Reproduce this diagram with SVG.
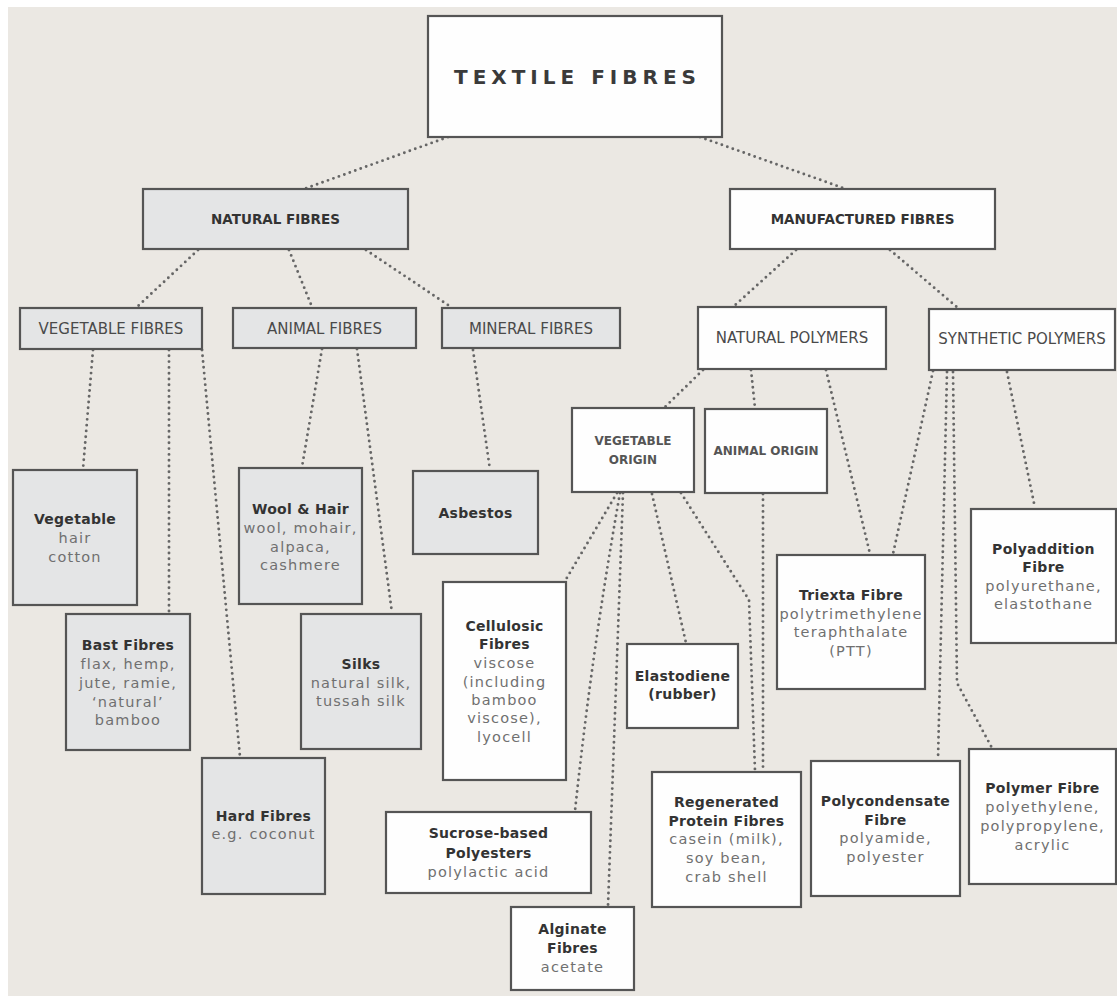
<svg xmlns="http://www.w3.org/2000/svg" width="1117" height="996" viewBox="0 0 1117 996">
<style>
.bg{fill:#ebe8e3}
.g{fill:#e4e5e6;stroke:#555;stroke-width:2.2}
.w{fill:#fefefe;stroke:#555;stroke-width:2.2}
text{font-family:"DejaVu Sans","Liberation Sans",sans-serif;text-anchor:middle}
.t0{font-size:20px;font-weight:bold;letter-spacing:5px;fill:#3a3a3a}
.t1{font-size:13.5px;font-weight:bold;fill:#333}
.cap{font-size:15px;fill:#4a4a4a}
.cb{font-size:12px;font-weight:bold;fill:#555}
.b{font-size:14px;font-weight:bold;letter-spacing:0.3px;fill:#333}
.n{font-size:14.5px;letter-spacing:1.2px;fill:#707070}
.con path{fill:none;stroke:#666;stroke-width:2.9;stroke-linecap:round;stroke-dasharray:0 5.8}
</style>
<rect x="0" y="0" width="1117" height="996" fill="#ffffff"/>
<rect class="bg" x="8" y="7" width="1109" height="989"/>

<g id="connectors" class="con">
<path d="M448,137 L304,189"/>
<path d="M700,137 L846,189"/>
<path d="M198,250 L137,307"/>
<path d="M289,250 L312,307"/>
<path d="M366,250 L451,307"/>
<path d="M796,250 L733,307"/>
<path d="M890,250 L958,308"/>
<path d="M93,350 L83,469"/>
<path d="M169,350 L169,613"/>
<path d="M202,350 L240,757"/>
<path d="M322,349 L302,467"/>
<path d="M357,349 L392,613"/>
<path d="M473,350 L490,470"/>
<path d="M703,370 L665,407"/>
<path d="M751,370 L755,408"/>
<path d="M826,370 L870,554"/>
<path d="M933,371 L893,554"/>
<path d="M947,372 L938,760"/>
<path d="M953,372 L957,683 L992,748"/>
<path d="M1007,372 L1035,508"/>
<path d="M617,493 L565,581"/>
<path d="M620,493 Q592,650 575,811"/>
<path d="M623,493 L608,906"/>
<path d="M652,494 L686,643"/>
<path d="M681,493 L749,600 L755,771"/>
<path d="M763,494 L763,771"/>
</g>

<g id="textile-fibres"><rect class="w" x="428" y="16" width="294" height="121"/><text class="t0" x="577.5" y="84">TEXTILE FIBRES</text></g>
<g id="natural-fibres"><rect class="g" x="143" y="189" width="265" height="60"/><text class="t1" x="275.5" y="224">NATURAL FIBRES</text></g>
<g id="manufactured-fibres"><rect class="w" x="730" y="189" width="265" height="60"/><text class="t1" x="862.5" y="224">MANUFACTURED FIBRES</text></g>

<g id="vegetable-fibres"><rect class="g" x="20" y="308" width="182" height="41"/><text class="cap" x="111" y="334">VEGETABLE FIBRES</text></g>
<g id="animal-fibres"><rect class="g" x="233" y="308" width="183" height="40"/><text class="cap" x="324.5" y="334">ANIMAL FIBRES</text></g>
<g id="mineral-fibres"><rect class="g" x="442" y="308" width="178" height="40"/><text class="cap" x="531" y="334">MINERAL FIBRES</text></g>
<g id="natural-polymers"><rect class="w" x="698" y="307" width="188" height="62"/><text class="cap" x="792" y="343">NATURAL POLYMERS</text></g>
<g id="synthetic-polymers"><rect class="w" x="929" y="309" width="186" height="61"/><text class="cap" x="1022" y="344">SYNTHETIC POLYMERS</text></g>

<g id="vegetable"><rect class="g" x="13" y="470" width="124" height="135"/>
<text class="b" x="75" y="524">Vegetable</text><text class="n" x="75" y="543">hair</text><text class="n" x="75" y="562">cotton</text></g>
<g id="bast-fibres"><rect class="g" x="66" y="614" width="124" height="136"/>
<text class="b" x="128" y="650">Bast Fibres</text><text class="n" x="128" y="669">flax, hemp,</text><text class="n" x="128" y="688">jute, ramie,</text><text class="n" x="128" y="707">‘natural’</text><text class="n" x="128" y="725">bamboo</text></g>
<g id="hard-fibres"><rect class="g" x="202" y="758" width="123" height="136"/>
<text class="b" x="263.5" y="821">Hard Fibres</text><text class="n" x="263.5" y="839">e.g. coconut</text></g>
<g id="wool-hair"><rect class="g" x="239" y="468" width="123" height="136"/>
<text class="b" x="300.5" y="514">Wool &amp; Hair</text><text class="n" x="300.5" y="533">wool, mohair,</text><text class="n" x="300.5" y="552">alpaca,</text><text class="n" x="300.5" y="570">cashmere</text></g>
<g id="silks"><rect class="g" x="301" y="614" width="120" height="135"/>
<text class="b" x="361" y="669">Silks</text><text class="n" x="361" y="688">natural silk,</text><text class="n" x="361" y="706">tussah silk</text></g>
<g id="asbestos"><rect class="g" x="413" y="471" width="125" height="83"/>
<text class="b" x="475.5" y="518">Asbestos</text></g>

<g id="vegetable-origin"><rect class="w" x="572" y="408" width="122" height="84"/>
<text class="cb" x="633" y="445">VEGETABLE</text><text class="cb" x="633" y="464">ORIGIN</text></g>
<g id="animal-origin"><rect class="w" x="705" y="409" width="122" height="84"/>
<text class="cb" x="766" y="455">ANIMAL ORIGIN</text></g>

<g id="cellulosic-fibres"><rect class="w" x="443" y="582" width="123" height="198"/>
<text class="b" x="504.5" y="631">Cellulosic</text><text class="b" x="504.5" y="649">Fibres</text><text class="n" x="504.5" y="668">viscose</text><text class="n" x="504.5" y="687">(including</text><text class="n" x="504.5" y="705">bamboo</text><text class="n" x="504.5" y="723">viscose),</text><text class="n" x="504.5" y="742">lyocell</text></g>
<g id="elastodiene"><rect class="w" x="627" y="644" width="111" height="84"/>
<text class="b" x="682.5" y="681">Elastodiene</text><text class="b" x="682.5" y="699">(rubber)</text></g>
<g id="sucrose-based-polyesters"><rect class="w" x="386" y="812" width="205" height="81"/>
<text class="b" x="488.5" y="838">Sucrose-based</text><text class="b" x="488.5" y="858">Polyesters</text><text class="n" x="488.5" y="877">polylactic acid</text></g>
<g id="alginate-fibres"><rect class="w" x="511" y="907" width="123" height="83"/>
<text class="b" x="572.5" y="934">Alginate</text><text class="b" x="572.5" y="953">Fibres</text><text class="n" x="572.5" y="972">acetate</text></g>
<g id="regenerated-protein-fibres"><rect class="w" x="652" y="772" width="149" height="135"/>
<text class="b" x="726.5" y="807">Regenerated</text><text class="b" x="726.5" y="826">Protein Fibres</text><text class="n" x="726.5" y="844">casein (milk),</text><text class="n" x="726.5" y="863">soy bean,</text><text class="n" x="726.5" y="882">crab shell</text></g>

<g id="triexta-fibre"><rect class="w" x="777" y="555" width="148" height="134"/>
<text class="b" x="851" y="600">Triexta Fibre</text><text class="n" x="851" y="619">polytrimethylene</text><text class="n" x="851" y="637">teraphthalate</text><text class="n" x="851" y="656">(PTT)</text></g>
<g id="polyaddition-fibre"><rect class="w" x="971" y="509" width="145" height="134"/>
<text class="b" x="1043.5" y="554">Polyaddition</text><text class="b" x="1043.5" y="572">Fibre</text><text class="n" x="1043.5" y="591">polyurethane,</text><text class="n" x="1043.5" y="609">elastothane</text></g>
<g id="polycondensate-fibre"><rect class="w" x="811" y="761" width="149" height="135"/>
<text class="b" x="885.5" y="806">Polycondensate</text><text class="b" x="885.5" y="825">Fibre</text><text class="n" x="885.5" y="843">polyamide,</text><text class="n" x="885.5" y="862">polyester</text></g>
<g id="polymer-fibre"><rect class="w" x="969" y="749" width="147" height="135"/>
<text class="b" x="1042.5" y="793">Polymer Fibre</text><text class="n" x="1042.5" y="812">polyethylene,</text><text class="n" x="1042.5" y="831">polypropylene,</text><text class="n" x="1042.5" y="850">acrylic</text></g>
</svg>
